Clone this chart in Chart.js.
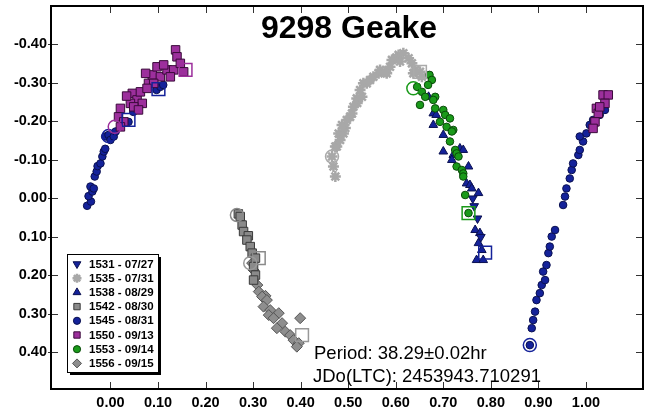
<!DOCTYPE html>
<html>
<head>
<meta charset="utf-8">
<title>9298 Geake</title>
<script src="https://cdn.jsdelivr.net/npm/chart.js@4.4.0/dist/chart.umd.min.js"></script>
<style>
  html, body { margin: 0; padding: 0; background: #fff; }
</style>
</head>
<body>
<canvas id="lcChart" width="650" height="416"></canvas>
<script>
// Lightcurve sessions: [phase, magnitude]
const s1531 = [[0.765, 0.020], [0.772, 0.052], [0.779, 0.100], [0.762, 0.000]];
const s1535 = [
  [0.473, -0.057], [0.469, -0.083], [0.466, -0.109], [0.473, -0.135], [0.476, -0.135],
  [0.483, -0.152], [0.480, -0.169], [0.490, -0.169], [0.494, -0.183], [0.487, -0.191],
  [0.497, -0.204], [0.504, -0.212], [0.508, -0.221], [0.511, -0.238], [0.519, -0.248],
  [0.518, -0.260], [0.529, -0.264], [0.525, -0.282], [0.532, -0.299], [0.539, -0.299],
  [0.546, -0.308], [0.553, -0.316], [0.564, -0.325], [0.567, -0.334], [0.578, -0.329],
  [0.581, -0.325], [0.588, -0.342], [0.592, -0.360], [0.601, -0.366], [0.606, -0.373],
  [0.609, -0.356], [0.616, -0.377], [0.627, -0.364], [0.634, -0.351], [0.637, -0.325],
  [0.641, -0.334], [0.651, -0.329], [0.655, -0.316]
];
const s1538 = [
  [0.669, -0.264], [0.679, -0.221], [0.685, -0.217], [0.679, -0.191], [0.700, -0.165],
  [0.700, -0.122], [0.721, -0.113], [0.718, -0.100], [0.735, -0.130], [0.742, -0.126],
  [0.753, -0.083], [0.749, -0.039], [0.756, -0.035], [0.760, -0.026], [0.774, -0.014],
  [0.767, 0.082], [0.777, 0.090], [0.774, 0.116], [0.781, 0.134], [0.770, 0.160],
  [0.784, 0.160]
];
const s1542 = [
  [0.269, 0.040], [0.273, 0.047], [0.277, 0.069], [0.280, 0.086], [0.290, 0.097],
  [0.287, 0.108], [0.294, 0.125], [0.298, 0.142], [0.305, 0.155], [0.301, 0.177],
  [0.305, 0.199], [0.301, 0.212]
];
const s1545 = [
  [-0.049, 0.019], [-0.041, 0.008], [-0.046, -0.006], [-0.038, -0.018], [-0.042, -0.031],
  [-0.035, -0.026], [-0.033, -0.057], [-0.029, -0.070], [-0.027, -0.084], [-0.021, -0.091],
  [-0.017, -0.109], [-0.014, -0.122], [-0.011, -0.129], [-0.011, -0.161], [-0.004, -0.165],
  [0.000, -0.152], [0.007, -0.161], [0.011, -0.174], [0.038, -0.199], [0.048, -0.225],
  [0.097, -0.282], [0.105, -0.290], [0.111, -0.295],
  [0.882, 0.381], [0.886, 0.337], [0.889, 0.316], [0.893, 0.294], [0.896, 0.264],
  [0.903, 0.246], [0.907, 0.225], [0.914, 0.212], [0.910, 0.190], [0.917, 0.173],
  [0.921, 0.142], [0.924, 0.125], [0.928, 0.099], [0.935, 0.082], [0.952, 0.017],
  [0.956, -0.005], [0.959, -0.026], [0.966, -0.052], [0.970, -0.074], [0.973, -0.091],
  [0.984, -0.113], [0.987, -0.126], [0.994, -0.148], [0.987, -0.161], [1.001, -0.169],
  [1.008, -0.191], [1.015, -0.204], [1.029, -0.217], [1.040, -0.230]
];
const s1550 = [
  [0.021, -0.234], [0.017, -0.212], [0.028, -0.199], [0.021, -0.186], [0.046, -0.273],
  [0.056, -0.256], [0.063, -0.277], [0.042, -0.247], [0.067, -0.247], [0.080, -0.299],
  [0.088, -0.321], [0.074, -0.325], [0.098, -0.342], [0.105, -0.316], [0.119, -0.334],
  [0.112, -0.347], [0.137, -0.386], [0.140, -0.368], [0.133, -0.334], [0.147, -0.351],
  [0.154, -0.329], [0.126, -0.316], [0.091, -0.299], [0.077, -0.286], [0.049, -0.238],
  [0.059, -0.230], [0.034, -0.266],
  [1.036, -0.269], [1.047, -0.269], [1.040, -0.247], [1.022, -0.234], [1.026, -0.221],
  [1.019, -0.199], [1.015, -0.182], [1.029, -0.238]
];
const s1553 = [
  [0.671, -0.321], [0.676, -0.308], [0.668, -0.295], [0.645, -0.290], [0.655, -0.277],
  [0.662, -0.264], [0.683, -0.264], [0.679, -0.256], [0.651, -0.243], [0.683, -0.234],
  [0.700, -0.230], [0.704, -0.217], [0.714, -0.208], [0.693, -0.199], [0.707, -0.186],
  [0.721, -0.178], [0.718, -0.174], [0.714, -0.148], [0.725, -0.126], [0.728, -0.117],
  [0.732, -0.109], [0.728, -0.083], [0.739, -0.074], [0.742, -0.065], [0.742, -0.057],
  [0.746, -0.009], [0.753, 0.038]
];
const s1556 = [
  [0.298, 0.168], [0.301, 0.186], [0.309, 0.225], [0.312, 0.242], [0.326, 0.253],
  [0.319, 0.255], [0.329, 0.264], [0.322, 0.281], [0.336, 0.290], [0.354, 0.298],
  [0.333, 0.303], [0.343, 0.311], [0.399, 0.311], [0.361, 0.324], [0.350, 0.337],
  [0.368, 0.346], [0.378, 0.355], [0.385, 0.368], [0.396, 0.376], [0.392, 0.385]
];

// first / last point of each session, drawn as open markers
const openCircles = [
  [0.882, 0.381, '#14229a'], [-0.004, -0.162, '#14229a'], [0.009, -0.186, '#9c2f9c'],
  [0.637, -0.286, '#1a9a1a'], [0.266, 0.043, '#8a8a8a'], [0.294, 0.168, '#999999'],
  [0.466, -0.109, '#aaaaaa']
];
const openSquares = [
  [0.038, -0.204, '#14229a'], [0.101, -0.284, '#14229a'], [0.788, 0.141, '#14229a'],
  [0.158, -0.334, '#9c2f9c'], [0.753, 0.038, '#1a9a1a'], [0.312, 0.155, '#8a8a8a'],
  [0.403, 0.355, '#999999'], [0.651, -0.329, '#aaaaaa']
];

const xTicks = [0.0, 0.1, 0.2, 0.3, 0.4, 0.5, 0.6, 0.7, 0.8, 0.9, 1.0];
const yTicks = [-0.4, -0.3, -0.2, -0.1, 0.0, 0.1, 0.2, 0.3, 0.4];

const toXY = arr => arr.map(p => ({ x: p[0], y: p[1] }));

const sessions = [
  { label: '1531 - 07/27', data: s1531, style: 'triangle', rot: 180, r: 5, fill: '#14229a', edge: '#0a1050', order: 3 },
  { label: '1535 - 07/31', data: s1535, style: 'star', rot: 0, r: 5.5, fill: '#a8a8a8', edge: '#a8a8a8', bw: 2.5, order: 8 },
  { label: '1538 - 08/29', data: s1538, style: 'triangle', rot: 0, r: 5, fill: '#14229a', edge: '#0a1050', order: 4 },
  { label: '1542 - 08/30', data: s1542, style: 'rect', rot: 0, r: 6, fill: '#8a8a8a', edge: '#3a3a3a', order: 6 },
  { label: '1545 - 08/31', data: s1545, style: 'circle', rot: 0, r: 3.8, fill: '#14229a', edge: '#0a1050', order: 5 },
  { label: '1550 - 09/13', data: s1550, style: 'rect', rot: 0, r: 6, fill: '#9c2f9c', edge: '#3a0a3a', order: 2 },
  { label: '1553 - 09/14', data: s1553, style: 'circle', rot: 0, r: 3.8, fill: '#1a9a1a', edge: '#0a4a0a', order: 1 },
  { label: '1556 - 09/15', data: s1556, style: 'rectRot', rot: 0, r: 5.5, fill: '#8e8e8e', edge: '#555555', order: 7 }
];

const datasets = sessions.map(s => ({
  label: s.label,
  data: toXY(s.data),
  pointStyle: s.style,
  rotation: s.rot,
  pointRadius: s.r,
  backgroundColor: s.fill,
  borderColor: s.edge,
  borderWidth: s.bw || 1,
  order: s.order
}));

datasets.push({
  label: 'ends-circle',
  data: openCircles.map(p => ({ x: p[0], y: p[1] })),
  pointStyle: 'circle',
  pointRadius: 6.5,
  backgroundColor: 'rgba(0,0,0,0)',
  borderColor: openCircles.map(p => p[2]),
  borderWidth: 1.5,
  order: 0
});
datasets.push({
  label: 'ends-square',
  data: openSquares.map(p => ({ x: p[0], y: p[1] })),
  pointStyle: 'rect',
  pointRadius: 9,
  backgroundColor: 'rgba(0,0,0,0)',
  borderColor: openSquares.map(p => p[2]),
  borderWidth: 1.5,
  order: 0
});

const FONT = '"Liberation Sans", Arial, sans-serif';

// frame, inward ticks, title, legend box and fit notes
const decorations = {
  id: 'decorations',
  afterDraw(chart) {
    const { ctx, chartArea: a, scales: { x, y } } = chart;
    ctx.save();
    ctx.strokeStyle = '#333';
    ctx.lineWidth = 1;
    ctx.beginPath();
    xTicks.forEach(v => {
      const px = Math.round(x.getPixelForValue(v)) + 0.5;
      ctx.moveTo(px, a.bottom); ctx.lineTo(px, a.bottom - 7);
      ctx.moveTo(px, a.top); ctx.lineTo(px, a.top + 7);
    });
    yTicks.forEach(v => {
      const py = Math.round(y.getPixelForValue(v)) + 0.5;
      ctx.moveTo(a.left - 3, py); ctx.lineTo(a.left + 7, py);
      ctx.moveTo(a.right, py); ctx.lineTo(a.right - 7, py);
    });
    ctx.stroke();
    ctx.strokeStyle = '#000';
    ctx.lineWidth = 2;
    ctx.strokeRect(a.left, a.top, a.right - a.left, a.bottom - a.top);

    // title
    ctx.fillStyle = '#000';
    ctx.font = 'bold 32px ' + FONT;
    ctx.textAlign = 'center';
    ctx.textBaseline = 'middle';
    ctx.fillText('9298 Geake', 349, 29);

    // period notes
    ctx.font = '18.5px ' + FONT;
    ctx.textAlign = 'left';
    ctx.fillText('Period: 38.29\u00b10.02hr', 314, 354);
    ctx.fillText('JDo(LTC): 2453943.710291', 313, 377);

    // legend
    const lx = 67, ly = 254, lw = 91, lh = 118;
    ctx.fillStyle = '#000';
    ctx.fillRect(lx + 3, ly + 3, lw, lh);
    ctx.fillStyle = '#fff';
    ctx.fillRect(lx, ly, lw, lh);
    ctx.lineWidth = 1;
    ctx.strokeStyle = '#000';
    ctx.strokeRect(lx + 0.5, ly + 0.5, lw, lh);
    ctx.font = 'bold 11.5px ' + FONT;
    ctx.textBaseline = 'middle';
    sessions.forEach((s, i) => {
      const cy = ly + 10 + i * 14.2;
      ctx.fillStyle = s.fill;
      ctx.strokeStyle = s.edge;
      ctx.lineWidth = s.bw || 1;
      Chart.helpers.drawPoint(ctx, {
        pointStyle: s.style, rotation: s.rot,
        radius: s.style === 'circle' ? 3.6 : 4.5, borderWidth: s.bw || 1
      }, lx + 10, cy);
      ctx.fillStyle = '#000';
      ctx.fillText(s.label, lx + 22, cy + 0.5);
    });
    ctx.restore();
  }
};

new Chart(document.getElementById('lcChart'), {
  type: 'scatter',
  data: { datasets },
  options: {
    responsive: false,
    devicePixelRatio: 1,
    animation: false,
    layout: { autoPadding: false, padding: { top: 6, right: 7, left: 0, bottom: 0 } },
    plugins: { legend: { display: false }, tooltip: { enabled: false } },
    scales: {
      x: {
        type: 'linear',
        min: -0.125,
        max: 1.12,
        grid: { display: false, drawTicks: false },
        border: { display: false },
        afterBuildTicks: s => { s.ticks = xTicks.map(v => ({ value: v })); },
        afterFit: s => { s.height = 27; s.paddingLeft = 0; s.paddingRight = 0; },
        ticks: {
          padding: 5,
          color: '#000',
          maxRotation: 0,
          font: { family: FONT, size: 14.5, weight: 'bold' },
          callback: v => v.toFixed(2)
        }
      },
      y: {
        type: 'linear',
        reverse: true,
        min: -0.5,
        max: 0.495,
        grid: { display: false, drawTicks: false },
        border: { display: false },
        afterBuildTicks: s => { s.ticks = yTicks.map(v => ({ value: v })); },
        afterFit: s => { s.width = 51; s.paddingTop = 0; s.paddingBottom = 0; },
        ticks: {
          padding: 4,
          color: '#000',
          font: { family: FONT, size: 14.5, weight: 'bold' },
          callback: v => v.toFixed(2)
        }
      }
    }
  },
  plugins: [decorations]
});
</script>
</body>
</html>
